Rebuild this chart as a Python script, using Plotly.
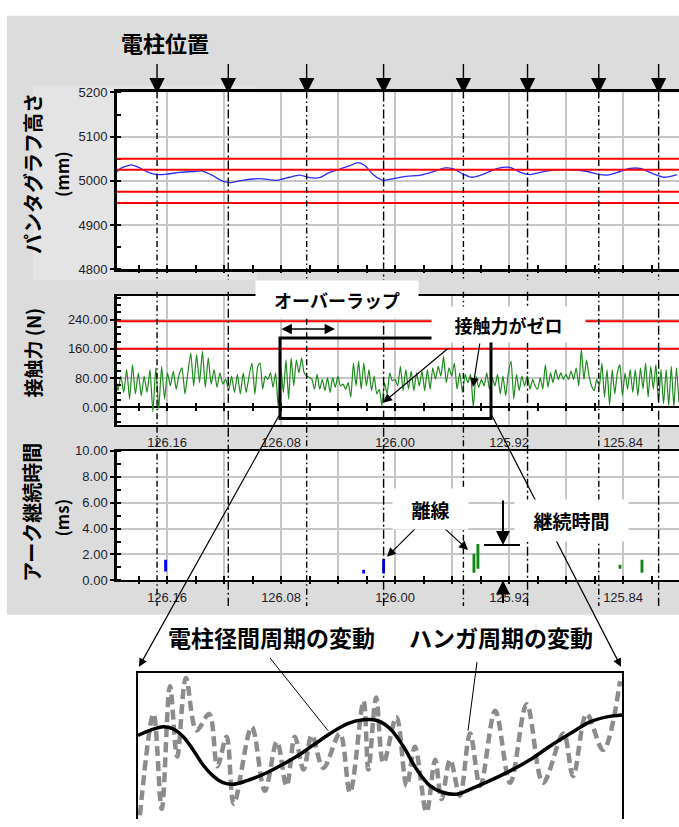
import numpy as np
import plotly.graph_objects as go

W, H = 679, 827

# ---------------- data ----------------
pole_km = [126.167, 126.117, 126.062, 126.008, 125.952, 125.907, 125.857, 125.815]

height_km = [126.195, 126.193, 126.185, 126.179, 126.173, 126.167, 126.160, 126.151, 126.142, 126.135,
             126.128, 126.121, 126.116, 126.107, 126.095, 126.083, 126.074, 126.067, 126.060, 126.053,
             126.046, 126.039, 126.032, 126.026, 126.021, 126.015, 126.008, 126.001, 125.992, 125.982,
             125.973, 125.965, 125.959, 125.952, 125.946, 125.938, 125.928, 125.919, 125.912, 125.905,
             125.898, 125.889, 125.877, 125.865, 125.858, 125.851, 125.844, 125.835, 125.828, 125.819,
             125.811, 125.802]
height_mm = [5020, 5027, 5036, 5029, 5019, 5014, 5015, 5019, 5021, 5022,
             5012, 4999, 4996, 5001, 5005, 5001, 5008, 5013, 5007, 5007,
             5019, 5026, 5034, 5041, 5034, 5013, 5001, 5005, 5010, 5013,
             5021, 5029, 5027, 5015, 5008, 5015, 5028, 5030, 5019, 5014,
             5019, 5024, 5025, 5021, 5015, 5013, 5019, 5028, 5028, 5016,
             5008, 5014]
height_limits_mm = [5050, 5025, 4975, 4950]

force_limits_n = [236, 160]
# contact force, sampled uniformly inside four stretches (km start, km end)
force_seg_km = [(126.1965, 126.0963), (126.0947, 126.0019), (126.0000, 125.9034), (125.9017, 125.8007)]
force_seg1 = [95, 45, 85, 40, 103, 22, 117, 36, 94, 31, 85, 40, 103, -13, 108, -4, 112, 22, 94, 58,
              99, 49, 90, 108, 36, 94, 148, 58, 144, 67, 153, 54, 135, 63, 103, 54, 94, 63, 76, 45,
              85, 40, 90, 36, 94, 40, 85, 121, 36, 112]
force_seg2 = [121, 49, 85, 76, 94, 54, 94, 0, 112, 40, 130, 22, 135, 58, 130, 94, 135, 94, 85, 81,
              76, 49, 90, 49, 76, 45, 81, 40, 81, 54, 85, 58, 63, 49, 67, 27, 121, 58, 126, 49,
              121, 58, 103, 45, 85, 36, 49, 4, 67, 36, 94, 72]
force_seg3 = [76, 58, 112, 45, 103, 49, 99, 45, 94, 58, 99, 45, 103, 49, 108, 76, 112, 85, 139, 67,
              108, 85, 121, 49, 94, 40, 90, 67, 90, 0, 85, 54, 76, 58, 94, 49, 81, 58, 90, 36,
              85, 31, 94, 126, 22, 90, 45, 85, 58, 85, 49, 76]
force_seg4 = [58, 49, 81, 49, 117, 54, 94, 67, 103, 76, 94, 76, 90, 76, 99, 76, 108, 58, 159, 76,
              130, 85, 58, 45, 76, 58, 121, 27, 103, 4, 103, 36, 94, 117, 31, 94, 49, 103, 40, 103,
              31, 108, 49, 121, 27, 112, 49, 117, 13, 103, 9, 103, 4, 112, 0, 108, 13]

arc_blue_km = [126.161, 126.022, 126.008]
arc_blue_lo = [0.68, 0.53, 0.53]
arc_blue_hi = [1.59, 0.83, 1.67]
arc_green_km = [125.9446, 125.9418, 125.8421, 125.8267]
arc_green_lo = [0.60, 0.90, 0.90, 0.60]
arc_green_hi = [2.05, 2.80, 1.20, 1.60]

# schematic inset (relative position 0-100, relative amplitude 0-100)
span_x = [0, 2.5, 5.2, 7.2, 9.3, 11.4, 13.4, 15.5, 17.6, 19.6, 22.5, 25.8, 29.3, 32.9, 36.2, 39.7, 43.2,
          46.5, 49.4, 52.1, 54.8, 57.6, 60.3, 63.0, 65.9, 68.6, 72.7, 76.9, 81.0, 85.1, 89.3, 93.4, 96.9, 100]
span_y = [57.2, 60.6, 63.1, 61.7, 56.4, 47.2, 37.1, 29.5, 24.8, 23.7, 26.2, 30.4, 36.2, 43.0, 50.5, 58.4, 65.1,
          67.8, 67.3, 61.7, 49.7, 33.8, 22.8, 18.1, 17.0, 20.3, 26.2, 32.9, 40.5, 49.7, 58.4, 66.4, 69.8, 71.1]
hanger_x = [0.4, 3.2, 4.9, 6.6, 8.1, 9.9, 12.1, 14.7, 16.4, 18.3, 19.8, 23.5, 26.2, 28.7, 30.7, 32.4, 34.2,
            35.9, 38.3, 41.7, 43.8, 46.6, 47.6, 49.2, 50.7, 53.4, 55.5, 57.2, 59.6, 61.4, 62.7, 64.5, 66.5,
            68.6, 70.7, 73.8, 76.9, 80.3, 83.7, 87.9, 89.9, 92.7, 96.1, 99.6]
hanger_y = [2.5, 71.8, 6.9, 90.8, 42.7, 96.4, 60.6, 71.8, 36.0, 56.2, 10.3, 62.9, 19.3, 52.8, 22.6, 56.2, 33.8,
            57.2, 34.9, 58.4, 18.1, 80.7, 33.8, 83.0, 38.3, 69.6, 22.6, 49.4, 4.7, 40.5, 13.6, 40.5, 15.9,
            58.4, 22.6, 74.0, 24.8, 78.5, 24.8, 58.4, 29.3, 71.8, 47.2, 94.2]

# ---------------- helpers ----------------
def fx(p):
    return p / W


def fy(p):
    return 1 - p / H


X_RANGE = [126.1951, 125.8007]
X_DOM = [fx(117), 1.0]
JP = "Noto Sans CJK JP"
NUM = dict(family="Liberation Sans, Arial", size=13, color="#1c1c2c")
GRID = "#c6c6c6"

force_km = np.concatenate([np.linspace(a, b, len(s)) for (a, b), s in
                           zip(force_seg_km, [force_seg1, force_seg2, force_seg3, force_seg4])])
force_n = force_seg1 + force_seg2 + force_seg3 + force_seg4

fig = go.Figure()

fig.add_trace(go.Scatter(x=height_km, y=height_mm, mode="lines", xaxis="x", yaxis="y",
                         line=dict(color="#2b2bff", width=1.3, shape="spline", smoothing=0.7)))
fig.add_trace(go.Scatter(x=force_km, y=force_n, mode="lines", xaxis="x2", yaxis="y2",
                         line=dict(color="#1b8a1b", width=1.2, shape="spline", smoothing=0.5)))
fig.add_trace(go.Bar(x=arc_blue_km, y=[h - l for h, l in zip(arc_blue_hi, arc_blue_lo)], base=arc_blue_lo,
                     width=0.002, marker=dict(color="#0000ff", line=dict(width=0)), xaxis="x3", yaxis="y3"))
fig.add_trace(go.Bar(x=arc_green_km, y=[h - l for h, l in zip(arc_green_hi, arc_green_lo)], base=arc_green_lo,
                     width=0.002, marker=dict(color="#118811", line=dict(width=0)), xaxis="x3", yaxis="y3"))
fig.add_trace(go.Scatter(x=hanger_x, y=hanger_y, mode="lines", xaxis="x4", yaxis="y4",
                         line=dict(color="#8c8c8c", width=4.5, dash="10px,5px", shape="spline", smoothing=1.0)))
fig.add_trace(go.Scatter(x=span_x, y=span_y, mode="lines", xaxis="x4", yaxis="y4",
                         line=dict(color="black", width=3.5, shape="spline", smoothing=1.0)))
for xa, ya in [("x5", "y2"), ("x6", "y3"), ("x7", "y")]:
    fig.add_trace(go.Scatter(x=[None], y=[None], xaxis=xa, yaxis=ya, hoverinfo="skip"))


def xgrid_axis(anchor, labels, lw):
    return dict(domain=X_DOM, anchor=anchor, range=X_RANGE, autorange=False,
                showgrid=True, gridcolor=GRID, gridwidth=2, dtick=0.08, tick0=126.16,
                minor=dict(dtick=0.04, tick0=126.16, showgrid=True, gridcolor=GRID, gridwidth=2, ticks=""),
                showline=True, mirror=True, linecolor="black", linewidth=lw,
                ticks="", showticklabels=labels, tickformat=".2f", tickfont=NUM,
                ticklabelstandoff=4, zeroline=False, fixedrange=True)


def tick_axis(over, ypix):
    return dict(domain=X_DOM, overlaying=over, anchor="free", position=fy(ypix), range=X_RANGE,
                autorange=False, showgrid=False, showline=False, zeroline=False, showticklabels=False,
                ticks="inside", ticklen=8, tickwidth=1.5, tickcolor="black", dtick=0.02, tick0=126.16,
                fixedrange=True)


def yaxis(dom, rng, dtick, mdtick, fmt, lw):
    return dict(domain=dom, anchor="x", range=rng, autorange=False, dtick=dtick, tick0=0,
                showgrid=True, gridcolor=GRID, gridwidth=2, tickformat=fmt, tickfont=NUM,
                ticks="outside", ticklen=4, tickwidth=1.5, tickcolor="black",
                minor=dict(dtick=mdtick, ticks="inside", ticklen=4, tickwidth=1.5, tickcolor="black",
                           showgrid=False),
                showline=True, linecolor="black", linewidth=lw, zeroline=False, fixedrange=True)


layout = dict(width=W, height=H, autosize=False, margin=dict(l=0, r=0, t=0, b=0),
              paper_bgcolor="white", plot_bgcolor="white", showlegend=False, barmode="overlay",
              hovermode=False)
layout["xaxis"] = xgrid_axis("y", False, 3)
layout["xaxis2"] = xgrid_axis("y2", True, 2)
layout["xaxis3"] = xgrid_axis("y3", True, 2)
layout["xaxis5"] = tick_axis("x2", 411)
layout["xaxis6"] = tick_axis("x3", 588)
layout["xaxis7"] = tick_axis("x", 271)

layout["yaxis"] = yaxis([fy(267), fy(87)], [4800, 5200], 100, 50, "d", 3)
layout["yaxis2"] = yaxis([fy(426), fy(294)], [-50, 306], 80, 20, ".2f", 2.5)
layout["yaxis2"].update(anchor="x2", zeroline=True, zerolinecolor="black", zerolinewidth=2)
layout["yaxis3"] = yaxis([fy(584), fy(452)], [0, 10], 2, 1, ".2f", 2.5)
layout["yaxis3"]["anchor"] = "x3"

layout["xaxis4"] = dict(domain=[fx(138), fx(622)], anchor="y4", range=[0, 100], side="top",
                        showgrid=False, zeroline=False, showticklabels=False, ticks="",
                        showline=True, linecolor="black", linewidth=1.5, fixedrange=True)
layout["yaxis4"] = dict(domain=[0, fy(678)], anchor="x4", range=[0, 100], showgrid=False, zeroline=False,
                        showticklabels=False, ticks="", showline=True, mirror=True,
                        linecolor="black", linewidth=1.5, fixedrange=True)

shapes = []
shapes.append(dict(type="rect", xref="paper", yref="paper", x0=fx(7), x1=1, y0=fy(619), y1=fy(9),
                   fillcolor="#dcdcdc", line=dict(width=0), layer="below"))
shapes.append(dict(type="rect", xref="paper", yref="paper", x0=fx(33), x1=fx(257), y0=fy(278), y1=fy(80),
                   fillcolor="#e4e4e4", line=dict(width=0), layer="below"))
for a, b in [(87, 267), (294, 426), (452, 584)]:
    shapes.append(dict(type="rect", xref="paper", yref="paper", x0=X_DOM[0], x1=1, y0=fy(b), y1=fy(a),
                       fillcolor="white", line=dict(width=0), layer="below"))
for v in height_limits_mm:
    shapes.append(dict(type="line", xref="x domain", yref="y", x0=0, x1=1, y0=v, y1=v,
                       line=dict(color="#ff0000", width=2)))
for v in force_limits_n:
    shapes.append(dict(type="line", xref="x2 domain", yref="y2", x0=0, x1=1, y0=v, y1=v,
                       line=dict(color="#ff0000", width=2)))
for i, k in enumerate(pole_km):
    dash = "6px,3px,1.5px,3px" if i % 2 == 0 else "9px,3px,2px,3px"
    for a, b in [(87, 278), (290, 610)]:
        shapes.append(dict(type="line", xref="x", yref="paper", x0=k, x1=k, y0=fy(a), y1=fy(b),
                           line=dict(color="black", width=1.4, dash=dash)))
shapes.append(dict(type="rect", xref="paper", yref="paper", x0=fx(280), x1=fx(491), y0=fy(419), y1=fy(337),
                   line=dict(color="black", width=3)))
shapes.append(dict(type="line", xref="paper", yref="paper", x0=fx(484), x1=fx(520), y0=fy(548), y1=fy(548),
                   line=dict(color="black", width=2)))
for (a, b), (c, d) in [((270, 663), (328, 737)), ((477, 667), (468, 737))]:
    shapes.append(dict(type="line", xref="paper", yref="paper", x0=fx(a), y0=fy(b), x1=fx(c), y1=fy(d),
                       line=dict(color="black", width=1)))
layout["shapes"] = shapes

ann = []


def arrow(tip, tail, head=2, side="end", size=1.2, width=1.3):
    return dict(xref="paper", yref="paper", x=fx(tip[0]), y=fy(tip[1]), ax=tail[0] - tip[0],
                ay=tail[1] - tip[1], axref="pixel", ayref="pixel", text="", showarrow=True,
                arrowhead=head, arrowsize=size, arrowwidth=width, arrowcolor="black",
                arrowside=side, standoff=0, startstandoff=0)


def label(text, cx, cy, size, box=None, angle=0):
    d = dict(xref="paper", yref="paper", x=fx(cx), y=fy(cy), text="<b>" + text + "</b>", showarrow=False,
             font=dict(family=JP, size=size, color="black"), xanchor="center", yanchor="middle",
             textangle=angle)
    if box:
        d.update(bgcolor="white", width=box[0], height=box[1], borderpad=0, align="center", valign="middle")
    return d


for k in pole_km:
    ann.append(dict(xref="x", yref="paper", x=k, y=fy(88), ax=0, ay=-31, axref="pixel", ayref="pixel",
                    text="", showarrow=True, arrowhead=2, arrowsize=2.2, arrowwidth=1.4,
                    arrowcolor="black", standoff=0))
ann.append(arrow((139, 672), (280, 419), size=1.4, width=1.2))
ann.append(arrow((621, 672), (491, 419), size=1.4, width=1.2))
ann.append(arrow((335, 328), (280, 328), side="end+start", size=1.3, width=1.6))
ann.append(arrow((383, 403), (450, 347), size=1.5, width=1.2))
ann.append(arrow((473, 387), (480, 342), size=1.5, width=1.2))
ann.append(arrow((387, 560), (417, 530), size=1.5, width=1.2))
ann.append(arrow((468, 553), (443, 530), size=1.5, width=1.2))
ann.append(arrow((503, 548), (503, 502), size=1.4, width=2))
ann.append(arrow((503, 584), (503, 608), size=1.4, width=2))

ann.append(label("電柱位置", 165, 36, 22))
ann.append(label("パンタグラフ高さ", 33, 170, 20, angle=-90))
ann.append(label("(mm)", 62, 170, 17, angle=-90))
ann.append(label("接触力 (N)", 33, 352, 19, angle=-90))
ann.append(label("アーク継続時間", 32, 515, 20, angle=-90))
ann.append(label("(ms)", 62, 520, 17, angle=-90))
ann.append(label("オーバーラップ", 337, 297.5, 18, box=(162, 37)))
ann.append(label("接触力がゼロ", 508.5, 323.5, 18, box=(153, 35)))
ann.append(label("離線", 430.5, 511, 19, box=(75, 40)))
ann.append(label("継続時間", 571.5, 522.5, 19, box=(113, 41)))
ann.append(label("電柱径間周期の変動", 271, 642, 23))
ann.append(label("ハンガ周期の変動", 501, 642, 23))
layout["annotations"] = ann

fig.update_layout(**layout)
fig.write_html("out.html", config={"displayModeBar": False},
               post_script="document.body.style.margin='0';")
